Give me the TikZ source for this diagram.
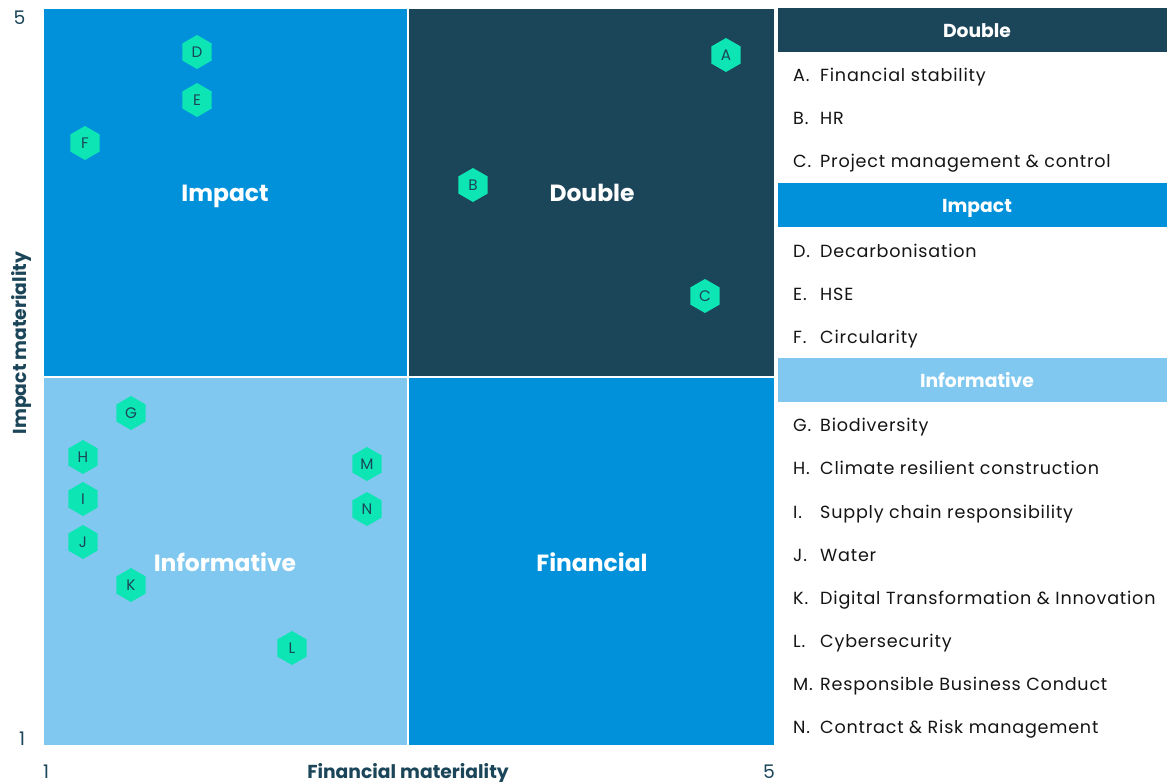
\documentclass[tikz,border=0pt]{standalone}
\usepackage{fontspec}
\setmainfont{Poppins}
\newfontfamily\legendfont[LetterSpace=4.5]{Poppins}
\usetikzlibrary{shapes.geometric}
\definecolor{navy}{RGB}{27,69,89}
\definecolor{midblue}{RGB}{0,145,218}
\definecolor{lightblue}{RGB}{128,200,239}
\definecolor{mint}{RGB}{14,229,181}
\definecolor{ink}{RGB}{20,20,20}

\begin{document}
\begin{tikzpicture}[x=0.03cm, y=-0.03cm,
    hexa/.style={regular polygon, regular polygon sides=6, shape border rotate=30,
        fill=mint, inner sep=0pt, minimum size=1.02cm, text=navy, font=\fontsize{13}{13}\selectfont},
    quad/.style={draw=white, line width=1pt},
    qlabel/.style={anchor=base, text=white, font=\fontsize{20}{20}\selectfont\bfseries},
    head/.style={anchor=base, text=white, font=\fontsize{16}{16}\selectfont\bfseries},
    item/.style={anchor=base west, text=ink, inner sep=0pt, font=\fontsize{15}{15}\legendfont},
    tick/.style={anchor=base, inner sep=0pt, text=navy, font=\fontsize{16}{16}\selectfont},
    axlabel/.style={anchor=base, inner sep=0pt, text=navy, font=\fontsize{16}{16}\selectfont\bfseries}]
    \useasboundingbox (0,0) rectangle (1167,782);
    % quadrants
    \filldraw[quad, fill=midblue] (43,8) rectangle (408,377);
    \filldraw[quad, fill=navy] (408,8) rectangle (775,377);
    \filldraw[quad, fill=lightblue] (43,377) rectangle (408,746);
    \filldraw[quad, fill=midblue] (408,377) rectangle (775,746);
    \node[qlabel] (qimpact) at (225,201) {Impact};
    \node[qlabel] (qdouble) at (592,201) {Double};
    \node[qlabel] (qinfo) at (225,571) {Informative};
    \node[qlabel] (qfin) at (592,571) {Financial};
    % axes
    \node[tick] (ytop) at (19.5,24) {5};
    \node[tick] (ybot) at (22,745) {1};
    \node[tick] (xleft) at (46,778) {1};
    \node[tick] (xright) at (769,778) {5};
    \node[axlabel] (xlab) at (408,778) {Financial materiality};
    \node[axlabel, rotate=90] (ylab) at (26,343) {Impact materiality};
    % topics
    \foreach \n/\x/\y in {A/726/55, B/473/185, C/705/296, D/197/52, E/197/100, F/85/143,
        G/131/413, H/83/457, I/83/499, J/83/542, K/131/585, L/292/648, M/367/464, N/367/509}
        \node[hexa] (\n) at (\x,\y) {\n};
    % legend
    \fill[navy] (778,8) rectangle (1167,52);
    \fill[midblue] (778,183) rectangle (1167,227);
    \fill[lightblue] (778,358) rectangle (1167,402);
    \node[head] (hdouble) at (977,37.5) {Double};
    \node[head] (himpact) at (977,212.5) {Impact};
    \node[head] (hinfo) at (977,387.5) {Informative};
    \foreach \n/\t/\y in {A/Financial stability/81, B/HR/124.3, C/Project management \& control/167.5,
        D/Decarbonisation/257, E/HSE/300, F/Circularity/343,
        G/Biodiversity/431.5, H/Climate resilient construction/474.7, I/Supply chain responsibility/518,
        J/Water/561, K/Digital Transformation \& Innovation/604, L/Cybersecurity/647,
        M/Responsible Business Conduct/690, N/Contract \& Risk management/733}
        \node[item] (l\n) at (793,\y) {\makebox[0.81cm][l]{\n.}\t};
\end{tikzpicture}
\end{document}
